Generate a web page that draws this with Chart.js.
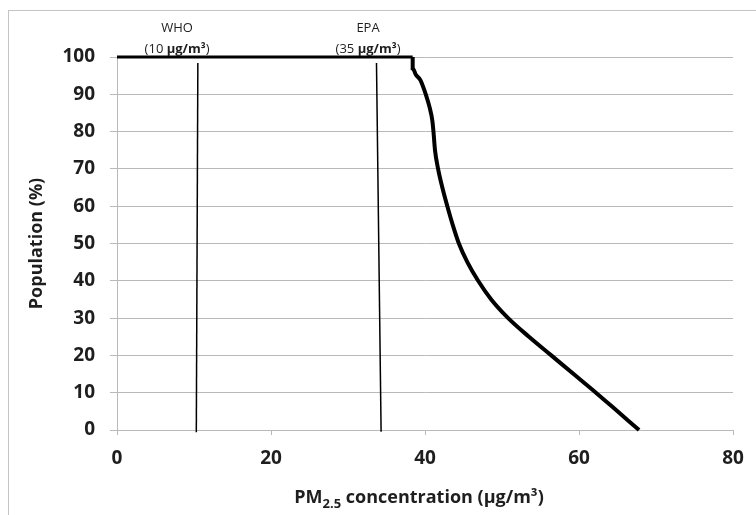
<!DOCTYPE html>
<html>
<head>
<meta charset="utf-8">
<script src="https://cdn.jsdelivr.net/npm/chart.js@4.4.1/dist/chart.umd.min.js"></script>
<style>
html, body { margin: 0; padding: 0; background: #fff; }
</style>
</head>
<body>
<canvas id="chart" width="756" height="515"></canvas>
<script>
// values
// flat part of the curve at 100%
const flatX = [0, 38.4];
const flatY = [100, 100];

// population exposed vs PM2.5 concentration
const curveX = [38.4, 38.4, 38.8, 39.4, 40.1, 40.6, 40.95, 41.1, 41.3, 41.7, 42.25, 42.9, 43.6, 44.4, 45.5, 46.9, 48.6, 50.8, 53.5, 56.4, 59.3, 62.2, 65.0, 67.8];
const curveY = [100, 97, 95.3, 93.8, 90, 86.5, 83, 80, 75, 70, 65, 60, 55, 50, 45, 40, 35, 30, 25, 20, 15, 10, 5, 0];

// guideline markers (they lean a little in the original)
const whoX = [10.5, 10.3];
const whoY = [98.4, -0.6];
const epaX = [33.7, 34.3];
const epaY = [98.4, -0.5];

// labels above the guidelines
const refNames = ['WHO', 'EPA'];
const refValues = ['10', '35'];
const refLabelX = [7.8, 32.6];

const xTicks = [0, 20, 40, 60, 80];
const yTicks = [0, 10, 20, 30, 40, 50, 60, 70, 80, 90, 100];

const FONT = '"Open Sans", Lato, "DejaVu Sans", sans-serif';
const GRID = '#b9b9b9';
const INK = '#1e1e1e';

function toPoints(xs, ys) {
    return xs.map((x, i) => ({x: x, y: ys[i]}));
}

// outer frame, x axis title with subscript, guideline labels
const extras = {
    id: 'extras',
    beforeDraw(chart) {
        const c = chart.ctx;
        c.save();
        c.strokeStyle = '#c4c4c4';
        c.lineWidth = 1;
        c.strokeRect(8.5, 10.5, 900, 900);
        c.restore();
    },
    afterDraw(chart) {
        const c = chart.ctx;
        const xs = chart.scales.x;
        const area = chart.chartArea;
        c.save();
        c.fillStyle = INK;
        c.textBaseline = 'alphabetic';

        // guideline labels
        refNames.forEach((name, i) => {
            const cx = xs.getPixelForValue(refLabelX[i]);
            c.font = '13px ' + FONT;
            c.textAlign = 'center';
            c.fillText(name, cx, area.top - 25);
            const a = '(' + refValues[i] + ' ';
            const b = 'µg/m³';
            const d = ')';
            c.font = '13px ' + FONT;
            const wa = c.measureText(a).width;
            const wd = c.measureText(d).width;
            c.font = 'bold 13px ' + FONT;
            const wb = c.measureText(b).width;
            let x0 = cx - (wa + wb + wd) / 2;
            c.textAlign = 'left';
            c.font = '13px ' + FONT;
            c.fillText(a, x0, area.top - 4);
            c.font = 'bold 13px ' + FONT;
            c.fillText(b, x0 + wa, area.top - 4);
            c.font = '13px ' + FONT;
            c.fillText(d, x0 + wa + wb, area.top - 4);
        });

        // x axis title: PM2.5 with subscript
        const p1 = 'PM', p2 = '2.5', p3 = ' concentration (µg/m³)';
        c.font = 'bold 18px ' + FONT;
        const w1 = c.measureText(p1).width;
        const w3 = c.measureText(p3).width;
        c.font = 'bold 13px ' + FONT;
        const w2 = c.measureText(p2).width;
        const base = 503;
        let x = 419 - (w1 + w2 + w3) / 2;
        c.textAlign = 'left';
        c.font = 'bold 18px ' + FONT;
        c.fillText(p1, x, base);
        c.font = 'bold 13px ' + FONT;
        c.fillText(p2, x + w1, base + 5);
        c.font = 'bold 18px ' + FONT;
        c.fillText(p3, x + w1 + w2, base);
        c.restore();
    }
};

new Chart(document.getElementById('chart'), {
    type: 'scatter',
    data: {
        datasets: [{
            data: toPoints(curveX, curveY),
            showLine: true,
            borderColor: '#000',
            borderWidth: 4,
            cubicInterpolationMode: 'monotone',
            pointRadius: 0,
            clip: false
        }, {
            data: toPoints(flatX, flatY),
            showLine: true,
            borderColor: '#000',
            borderWidth: 3,
            tension: 0,
            pointRadius: 0,
            clip: false
        }, {
            data: toPoints(whoX, whoY),
            showLine: true,
            borderColor: '#000',
            borderWidth: 1.5,
            pointRadius: 0,
            clip: false
        }, {
            data: toPoints(epaX, epaY),
            showLine: true,
            borderColor: '#000',
            borderWidth: 1.5,
            pointRadius: 0,
            clip: false
        }]
    },
    options: {
        responsive: false,
        devicePixelRatio: 1,
        animation: false,
        layout: {
            padding: {left: 0, top: 57, right: 23, bottom: 0}
        },
        plugins: {
            legend: {display: false},
            tooltip: {enabled: false}
        },
        scales: {
            x: {
                type: 'linear',
                min: 0,
                max: 80,
                afterBuildTicks: (s) => { s.ticks = xTicks.map(v => ({value: v})); },
                afterFit: (s) => { s.height = 85; },
                grid: {drawOnChartArea: false, drawTicks: true, tickLength: 5, color: GRID},
                border: {color: GRID, width: 1},
                ticks: {
                    padding: 12,
                    color: INK,
                    font: {family: FONT, size: 19, weight: 'bold'}
                }
            },
            y: {
                type: 'linear',
                min: 0,
                max: 100,
                afterBuildTicks: (s) => { s.ticks = yTicks.map(v => ({value: v})); },
                afterFit: (s) => { s.width = 117; },
                grid: {color: GRID, tickLength: 7},
                border: {color: GRID, width: 1},
                ticks: {
                    padding: 15,
                    color: INK,
                    font: {family: FONT, size: 19, weight: 'bold'}
                },
                title: {
                    display: true,
                    text: 'Population (%)',
                    color: INK,
                    font: {family: FONT, size: 18, weight: 'bold'},
                    padding: {top: 26, bottom: 0}
                }
            }
        }
    },
    plugins: [extras]
});
</script>
</body>
</html>
